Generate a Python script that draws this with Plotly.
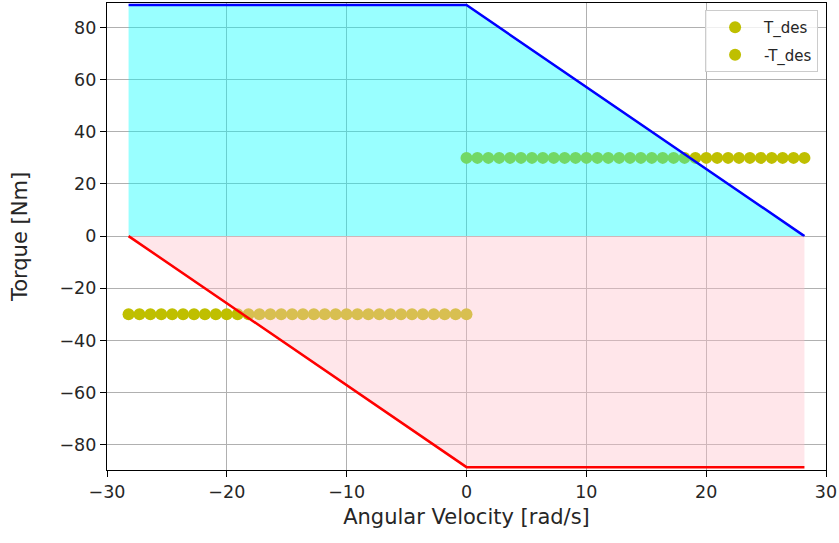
import plotly.graph_objects as go

# ---- data ----
omega_pos = [0.0, 0.91, 1.82, 2.73, 3.64, 4.55, 5.46, 6.37, 7.28, 8.19, 9.10,
             10.01, 10.92, 11.83, 12.74, 13.65, 14.55, 15.46, 16.37, 17.28,
             18.19, 19.10, 20.01, 20.92, 21.83, 22.74, 23.65, 24.56, 25.47,
             26.38, 27.29, 28.2]
omega_neg = [-28.2, -27.29, -26.38, -25.47, -24.56, -23.65, -22.74, -21.83,
             -20.92, -20.01, -19.10, -18.19, -17.28, -16.37, -15.46, -14.55,
             -13.65, -12.74, -11.83, -10.92, -10.01, -9.10, -8.19, -7.28,
             -6.37, -5.46, -4.55, -3.64, -2.73, -1.82, -0.91, 0.0]
t_des_pos = [30.0] * len(omega_pos)
t_des_neg = [-30.0] * len(omega_neg)

boundary_omega = [-28.2, 0.0, 28.2]
upper_torque = [88.6, 88.6, 0.0]
lower_torque = [0.0, -88.6, -88.6]

x_ticks = [-30, -20, -10, 0, 10, 20, 30]
y_ticks = [-80, -60, -40, -20, 0, 20, 40, 60, 80]

FONT = "DejaVu Sans"
marker_color = "#bfbf00"

fig = go.Figure()

fig.add_trace(go.Scatter(
    x=omega_pos, y=t_des_pos, mode="markers", name="T_des",
    legendgroup="a",
    marker=dict(color=marker_color, size=12, symbol="circle")))
fig.add_trace(go.Scatter(
    x=omega_neg, y=t_des_neg, mode="markers", name="-T_des",
    legendgroup="b",
    marker=dict(color=marker_color, size=12, symbol="circle")))

fig.add_trace(go.Scatter(
    x=boundary_omega, y=upper_torque, mode="lines", showlegend=False,
    fill="tozeroy", fillcolor="rgba(0,255,255,0.4)",
    line=dict(color="#0000ff", width=2.5)))
fig.add_trace(go.Scatter(
    x=boundary_omega, y=lower_torque, mode="lines", showlegend=False,
    fill="tozeroy", fillcolor="rgba(255,192,203,0.4)",
    line=dict(color="#ff0000", width=2.5)))

axis_common = dict(
    showgrid=True, gridcolor="#b0b0b0", gridwidth=1.2,
    zeroline=False, showline=True, linecolor="black", linewidth=1.3,
    mirror=True, ticks="outside", ticklen=6, tickwidth=1.3,
    tickcolor="black", tickfont=dict(family=FONT, size=17.5, color="#262626"),
)

fig.update_xaxes(range=[-30, 30], tickvals=x_ticks,
                 title=dict(text="Angular Velocity [rad/s]", standoff=8,
                            font=dict(family=FONT, size=21, color="#262626")),
                 **axis_common)
fig.update_yaxes(range=[-89.7, 89.4], tickvals=y_ticks,
                 title=dict(text="Torque [Nm]", standoff=26,
                            font=dict(family=FONT, size=21, color="#262626")),
                 **axis_common)

fig.update_layout(
    width=839, height=543,
    margin=dict(l=107, r=13, t=3, b=73),
    paper_bgcolor="white", plot_bgcolor="white",
    font=dict(family=FONT, color="#262626"),
    legend=dict(x=0.989, y=0.985, xanchor="right", yanchor="top",
                bgcolor="rgba(255,255,255,0.8)", bordercolor="#cccccc",
                borderwidth=1, font=dict(family=FONT, size=15, color="#262626"),
                tracegroupgap=5, itemwidth=48),
)

fig.write_html("out.html")
